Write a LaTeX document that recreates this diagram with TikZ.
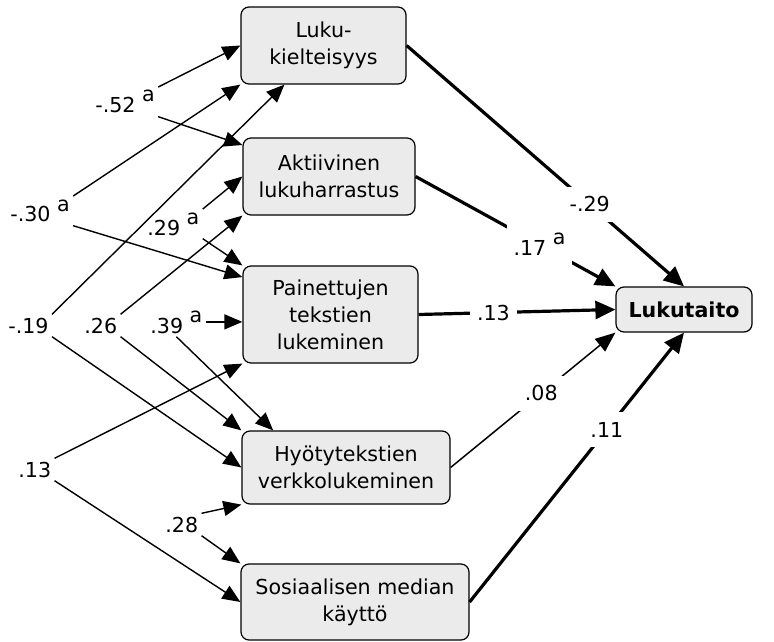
\documentclass[tikz,border=0pt]{standalone}
\usepackage{fontspec}
\setmainfont{DejaVu Sans}
\usetikzlibrary{arrows.meta}
\definecolor{PathFill}{HTML}{EBEBEB}
\newcommand{\markA}{\raisebox{5.5pt}{a}}

\begin{document}
\begin{tikzpicture}[x=0.5pt,y=-0.5pt]
    \tikzset{factorbox/.style={draw,rounded corners=4pt,fill=PathFill,line width=0.6pt,align=center,
      inner sep=2pt,font=\fontsize{10.3}{13.5}\selectfont},
      coef/.style={inner sep=1.5pt,font=\fontsize{10.3}{12}\selectfont},
      coefcut/.style={coef,fill=white,inner xsep=3.5pt,inner ysep=5pt},
      paththin/.style={-{Triangle[length=9pt,width=7.5pt]},line width=0.7pt},
      paththick/.style={-{Triangle[length=10pt,width=9pt]},line width=1.6pt}}
    \useasboundingbox (0,0) rectangle (774,641);
    \node[factorbox,minimum width=82.5pt,minimum height=38.5pt] (luku) at (323.5,45.5) {Luku-\\kielteisyys};
    \node[factorbox,minimum width=86pt,minimum height=38.5pt] (akt) at (329,176.5) {Aktiivinen\\lukuharrastus};
    \node[factorbox,minimum width=87.5pt,minimum height=48.5pt] (pain) at (330.5,314.5) {Painettujen\\tekstien\\lukeminen};
    \node[factorbox,minimum width=104pt,minimum height=36.5pt] (hyo) at (346,467.5) {Hyötytekstien\\verkkolukeminen};
    \node[factorbox,minimum width=114pt,minimum height=38pt] (sos) at (355,602) {Sosiaalisen median\\käyttö};
    \node[factorbox,minimum width=68pt,minimum height=22.5pt] (luk) at (684,309.5) {\textbf{Lukutaito}};
    \node[coef,anchor=base west] (l52) at (92,113) {-.52 \markA};
    \node[coef,anchor=base west] (l30) at (7,222) {-.30 \markA};
    \node[coef,anchor=base west] (l29) at (144,235) {.29 \markA};
    \node[coef,anchor=base west] (l19) at (5,333) {-.19};
    \node[coef,anchor=base west] (l26) at (81,333) {.26};
    \node[coef,anchor=base west] (l39) at (147,333) {.39 \markA};
    \node[coef,anchor=base west] (l13) at (15,477) {.13};
    \node[coef,anchor=base west] (l28) at (162,532) {.28};
    \draw[paththin] (l52.north east) -- (luku.west);
    \draw[paththin] (l52.south east) -- (akt.160);
    \draw[paththin] (l30.north east) -- (luku.south west);
    \draw[paththin] (l30.south east) -- (pain.157);
    \draw[paththin] (l29.north east) -- (akt.west);
    \draw[paththin] (l29.south east) -- (pain.north west);
    \draw[paththin] (l19.north east) -- (luku.225);
    \draw[paththin] (l19.south east) -- (hyo.west);
    \draw[paththin] (l26.north east) -- (akt.south west);
    \draw[paththin] (l26.south east) -- (hyo.north west);
    \draw[paththin] (l39.east) -- (l39.east -| pain.west);
    \draw[paththin] (l39.south) -- (hyo.153);
    \draw[paththin] (l13.north east) -- (pain.south west);
    \draw[paththin] (l13.south east) -- (sos.west);
    \draw[paththin] (l28.north east) -- (hyo.south west);
    \draw[paththin] (l28.south east) -- (sos.north west);
    \draw[paththick] (luku.east) -- node[coefcut,pos=0.66] (w29) {-.29} (luk.north);
    \draw[paththick] (akt.east) -- node[coefcut,pos=0.62] (w17) {.17 \markA} (luk.north west);
    \draw[paththick] (pain.east) -- node[coefcut,pos=0.38] (w13) {.13} (luk.west);
    \draw[-{Triangle[length=10pt,width=8pt]},line width=0.75pt] (hyo.east) -- node[coefcut,pos=0.55] (w08) {.08} (luk.south west);
    \draw[paththick] (sos.east) -- node[coefcut,pos=0.64] (w11) {.11} (luk.south);
  \end{tikzpicture}
\end{document}
